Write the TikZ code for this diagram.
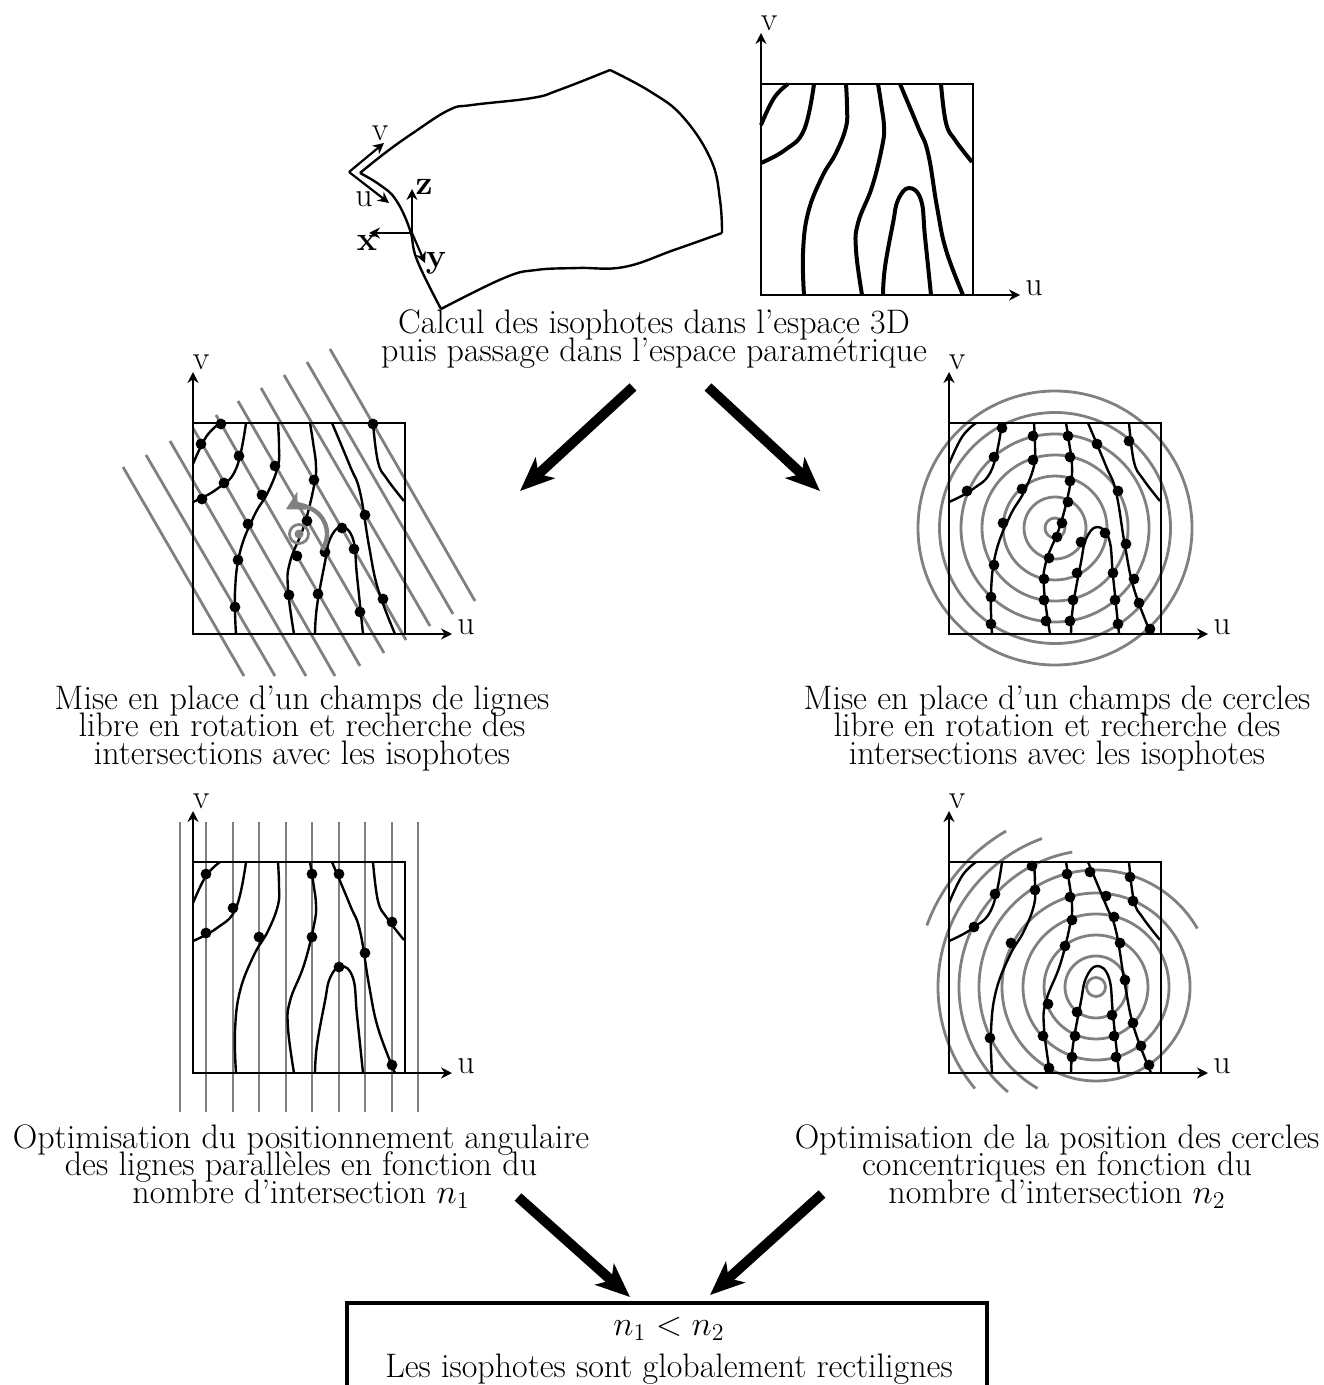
\documentclass[tikz,border=0pt]{standalone}
\usepackage{amsmath,amssymb}
\usepackage{tikz}
\usetikzlibrary{arrows.meta, positioning, calc}

\newcommand{\capfont}{\fontsize{17}{13.6}\selectfont\setlength{\lineskiplimit}{-20pt}}
\newcommand{\isocurves}[1]{
\draw[#1] plot[smooth, tension=0.7] coordinates {(0,170) (13,197) (27,211)};
\draw[#1] plot[smooth, tension=0.7] coordinates {(0,132) (24,145) (43,165) (53,211)};
\draw[#1] plot[smooth, tension=0.7] coordinates {(43,0) (42,42) (47,82) (61,118) (75,142) (85,168) (86,188) (85,211)};
\draw[#1] plot[smooth, tension=0.7] coordinates {(101,0) (95,45) (97,72) (111,108) (121,148) (123,168) (120,192) (117,211)};
\draw[#1] plot[smooth, tension=0.7] coordinates {(122,0) (124,28) (132,72) (137,95) (148,107) (160,95) (164,58) (170,0)};
\draw[#1] plot[smooth, tension=0.7] coordinates {(202,0) (185,45) (176,88) (167,142) (157,168) (139,211)};
\draw[#1] plot[smooth, tension=0.7] coordinates {(211,133) (194,155) (185,172) (180,211)};
}
\newcommand{\uvframe}{
\coordinate (orig) at (0,0);
\coordinate (utip) at (259,0);
\coordinate (vtip) at (0,262);
\draw[frameline] (0,0) rectangle (212,211);
\draw[axis] (orig) -- (utip);
\draw[axis] (orig) -- (vtip);
\node[txt] (ulabel) at (273,7) {u};
\node[txt] (vlabel) at (8,272) {v};
}

\begin{document}
\begin{tikzpicture}[
    x=0.5pt, y=-0.5pt,
    txt/.style={font=\capfont, inner sep=0pt},
    captxt/.style={txt, anchor=base, align=center},
    frameline/.style={line width=1.3pt},
    axis/.style={-{Stealth[length=5.5pt,width=5.5pt,inset=1.8pt]}, line width=1.1pt},
    iso/.style={line width=1.2pt},
    isobold/.style={line width=2pt},
    isodot/.style={circle, fill=black, inner sep=0pt, minimum size=5.4pt},
    grayline/.style={gray, line width=1.4pt},
    bigarrow/.style={-{Stealth[length=17pt,width=14pt,inset=4.5pt]}, line width=5pt}
]
\useasboundingbox (0,0) rectangle (1323,1385);

% surface 3D
\draw[line width=1.2pt] plot[smooth, tension=0.7] coordinates {(360,173) (385,153) (413,133) (449,110) (472,105) (532,98) (559,90) (610,70)}
  plot[smooth, tension=0.7] coordinates {(610,70) (651,92) (683,117) (711,160) (720,200) (722,233)}
  plot[smooth, tension=0.7] coordinates {(722,233) (674,250) (624,267) (578,268) (536,270) (504,278) (441,309)}
  plot[smooth, tension=0.7] coordinates {(441,309) (417,260) (410,230) (396,200) (380,185) (360,173)};
\coordinate (uvorig) at (349,172);
\coordinate (uvu) at (389,203);
\coordinate (uvv) at (384,143);
\draw[axis] (uvorig) -- (uvu);
\draw[axis] (uvorig) -- (uvv);
\node[txt] (surfu) at (364,199) {u};
\node[txt] (surfv) at (380,133) {v};
\coordinate (xyzorig) at (412,233);
\coordinate (xtip) at (369,233);
\coordinate (ytip) at (425,263);
\coordinate (ztip) at (412,189);
\draw[axis] (xyzorig) -- (xtip);
\draw[axis] (xyzorig) -- (ytip);
\draw[axis] (xyzorig) -- (ztip);
\node[txt] (xlabel) at (367,243) {\textbf{x}};
\node[txt] (ylabel) at (436,263) {\textbf{y}};
\node[txt] (zlabel) at (424,187) {\textbf{z}};

% espace parametrique
\begin{scope}[shift={(761,295)}, y=0.5pt, name prefix=top-]
\isocurves{isobold}
\uvframe
\end{scope}
\node[captxt] (captop) at (654,361) {Calcul des isophotes dans l'espace 3D\\puis passage dans l'espace param\'etrique};

% champs de lignes
\begin{scope}[shift={(193,634)}, y=0.5pt, name prefix=lin-]
\foreach \xa/\ya/\xb/\yb in {-70/167/51/-42, -47/179/82/-42, -23/193/113/-42, 0/206/142/-42, 23/219/167/-32, 45/233/191/-19, 68/246/213/-6, 91/259/237/8, 114/272/260/20, 137/285/282/33}
  \draw[grayline] (\xa,\ya) -- (\xb,\yb);
\isocurves{iso}
\uvframe
\foreach \px/\py [count=\k] in {28/210, 8/190, 46/178, 31/151, 9/135, 82/168, 69/139, 55/110, 45/74, 42/27, 121/154, 114/113, 104/78, 96/39, 132/82, 149/106, 161/85, 125/40, 167/22, 172/119, 190/35, 180/210}
  \node[isodot] (dot\k) at (\px,\py) {};
% rotation
\draw[gray, line width=1.4pt] (106,100) circle (9.5);
\fill[gray] (106,100) circle (4.5);
\draw[gray, line width=2.2pt, -{Stealth[length=9pt,width=10pt,inset=2.5pt]}] (129,84) arc[start angle=-35, end angle=118, radius=28];
\end{scope}
\node[captxt] (caplin) at (302,764) {Mise en place d'un champs de lignes\\libre en rotation et recherche des\\intersections avec les isophotes};

% champs de cercles
\begin{scope}[shift={(949,634)}, y=0.5pt, name prefix=cer-]
\foreach \r in {10,31,52,73,94,115.5,137}
  \draw[grayline] (106,106) circle (\r);
\isocurves{iso}
\uvframe
\foreach \px/\py [count=\k] in {53/206, 45/177, 18/143, 84/198, 84/174, 73/145, 54/111, 45/69, 42/37, 42/10, 119/198, 121/177, 121/153, 119/132, 113/111, 108/97, 100/76, 95/55, 95/34, 97/13, 148/190, 169/143, 177/90, 185/55, 190/31, 201/5, 180/193, 132/92, 156/101, 164/61, 166/34, 169/10, 128/61, 124/34, 121/13}
  \node[isodot] (dot\k) at (\px,\py) {};
\end{scope}
\node[captxt] (capcer) at (1057,764) {Mise en place d'un champs de cercles\\libre en rotation et recherche des\\intersections avec les isophotes};

% lignes paralleles
\begin{scope}[shift={(193,1073)}, y=0.5pt, name prefix=par-]
\foreach \xa in {-13,13,40,66,93,119,146,172,199,225}
  \draw[grayline] (\xa,251) -- (\xa,-39);
\isocurves{iso}
\uvframe
\foreach \px/\py [count=\k] in {13/199, 13/140, 40/165, 66/136, 119/199, 119/136, 146/199, 146/106, 172/120, 199/151, 199/8}
  \node[isodot] (dot\k) at (\px,\py) {};
\end{scope}
\node[captxt] (cappar) at (301,1203) {Optimisation du positionnement angulaire\\des lignes parall\`eles en fonction du\\nombre d'intersection $n_1$};

% cercles concentriques
\begin{scope}[shift={(949,1073)}, y=0.5pt, name prefix=con-]
\foreach \r in {9.5,31,52,73,94}
  \draw[grayline] (147,86) circle (\r);
\foreach \sa/\ea/\r in {30/240/117, 100/230/137, 110/220/158, 120/160/180}
  \draw[grayline] ($(147,86)+(\sa:\r)$) arc[start angle=\sa, end angle=\ea, radius=\r];
\isocurves{iso}
\uvframe
\foreach \px/\py [count=\k] in {83/207, 118/199, 141/201, 181/196, 46/179, 86/183, 121/176, 157/177, 184/172, 25/146, 62/130, 123/153, 165/156, 171/130, 116/127, 176/93, 99/69, 128/61, 163/58, 184/50, 94/37, 126/37, 165/37, 192/27, 41/35, 123/16, 167/16, 100/5, 200/8}
  \node[isodot] (dot\k) at (\px,\py) {};
\end{scope}
\node[captxt] (capcon) at (1057,1203) {Optimisation de la position des cercles\\concentriques en fonction du\\nombre d'intersection $n_2$};

% fleches
\coordinate (fa1) at (633,387);
\coordinate (fa2) at (520,491);
\coordinate (fb1) at (708,387);
\coordinate (fb2) at (820,491);
\coordinate (fc1) at (518,1197);
\coordinate (fc2) at (630,1297);
\coordinate (fd1) at (822,1194);
\coordinate (fd2) at (710,1295);
\draw[bigarrow] (fa1) -- (fa2);
\draw[bigarrow] (fb1) -- (fb2);
\draw[bigarrow] (fc1) -- (fc2);
\draw[bigarrow] (fd1) -- (fd2);

% resultat
\draw[line width=2pt] (347,1385) -- (347,1303) -- (987,1303) -- (987,1385);
\node[captxt] (resa) at (669,1335) {$n_1 < n_2$};
\node[captxt] (resb) at (669,1377) {Les isophotes sont globalement rectilignes};
\end{tikzpicture}
\end{document}
